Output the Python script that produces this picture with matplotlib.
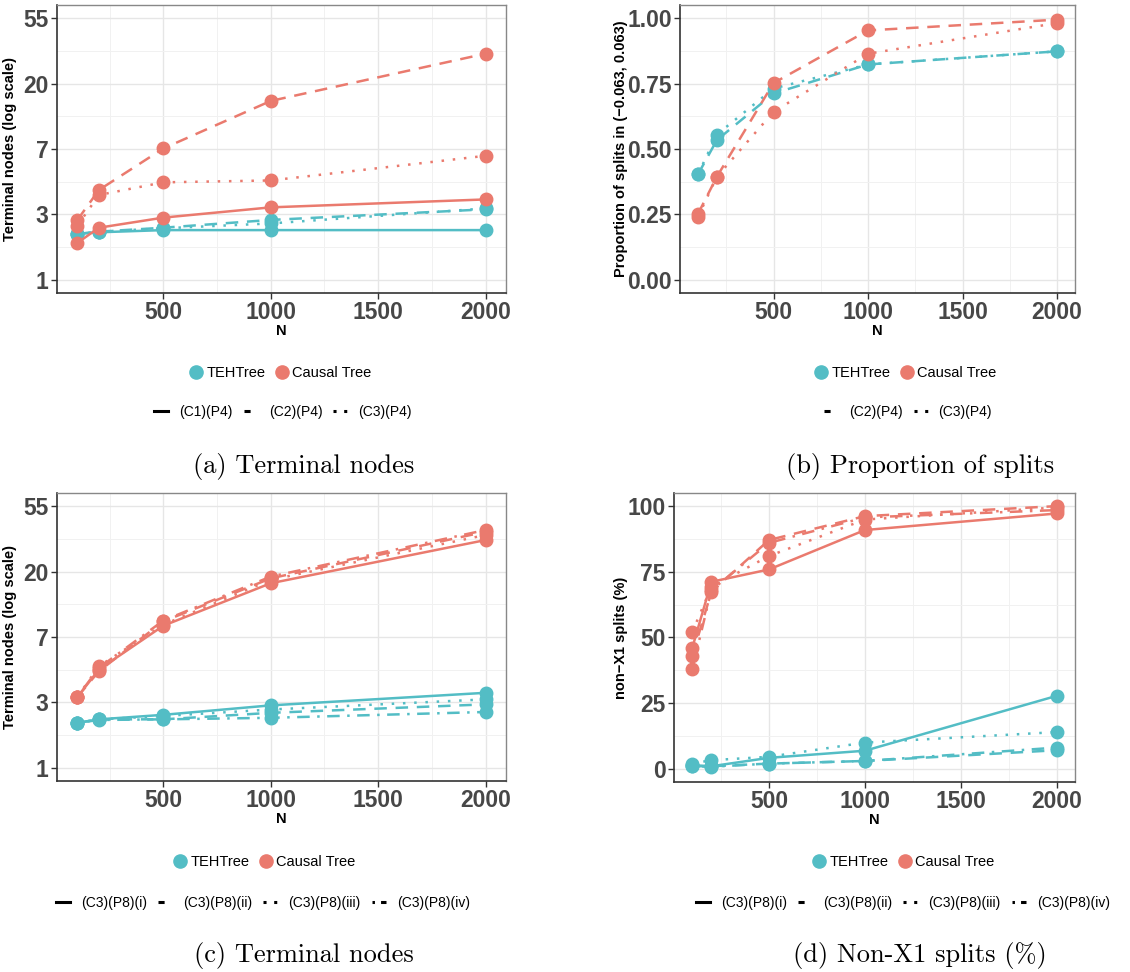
import matplotlib.pyplot as plt
import numpy as np
from matplotlib.lines import Line2D

plt.rcParams["font.family"] = ["Liberation Sans", "DejaVu Sans"]

N = [100, 200, 500, 1000, 2000]

# (a) terminal nodes, scenarios (C1..C3)(P4)
a_teh = {"C1": [2.02, 2.07, 2.14, 2.14, 2.14],
         "C2": [2.02, 2.09, 2.22, 2.50, 2.94],
         "C3": [2.02, 2.09, 2.20, 2.37, 2.98]}
a_ct = {"C1": [1.76, 2.22, 2.59, 3.03, 3.42],
        "C2": [2.50, 3.95, 7.45, 15.4, 31.7],
        "C3": [2.29, 3.66, 4.44, 4.57, 6.66]}
a_labels = {"C1": "(C1)(P4)", "C2": "(C2)(P4)", "C3": "(C3)(P4)"}

# (b) proportion of splits in (-0.063, 0.063)
b_teh = {"C2": [0.403, 0.534, 0.712, 0.823, 0.873],
         "C3": [0.403, 0.555, 0.731, 0.823, 0.873]}
b_ct = {"C2": [0.252, 0.394, 0.752, 0.953, 0.994],
        "C3": [0.241, 0.394, 0.642, 0.864, 0.981]}
b_labels = {"C2": "(C2)(P4)", "C3": "(C3)(P4)"}

# (c) terminal nodes, (C3)(P8)(i..iv)
c_teh = {"i": [1.99, 2.10, 2.25, 2.60, 3.15],
         "ii": [1.99, 2.10, 2.10, 2.32, 2.64],
         "iii": [1.99, 2.10, 2.21, 2.44, 2.85],
         "iv": [1.99, 2.08, 2.10, 2.15, 2.35]}
c_ct = {"i": [2.96, 4.49, 8.78, 16.8, 32.5],
        "ii": [2.96, 4.38, 9.38, 18.1, 36.9],
        "iii": [2.96, 4.73, 8.92, 17.7, 35.1],
        "iv": [2.96, 4.61, 9.50, 18.6, 37.9]}

# (d) non-X1 splits (%)
d_teh = {"i": [1.4, 1.0, 4.2, 6.9, 27.8],
         "ii": [1.0, 1.0, 2.0, 3.0, 7.1],
         "iii": [2.0, 3.3, 4.6, 10.0, 14.0],
         "iv": [1.0, 0.8, 2.0, 3.0, 8.1]}
d_ct = {"i": [46, 71.2, 75.9, 90.9, 97.2],
        "ii": [43, 67.4, 87.1, 96.2, 100.0],
        "iii": [52, 69.3, 81.0, 94.9, 99.5],
        "iv": [38, 68.0, 86.0, 95.7, 98.5]}
cd_labels = {"i": "(C3)(P8)(i)", "ii": "(C3)(P8)(ii)",
             "iii": "(C3)(P8)(iii)", "iv": "(C3)(P8)(iv)"}

log_ticks = ["1", "3", "7", "20", "55"]
methods = ["TEHTree", "Causal Tree"]
TEAL, RED = "#53BDC5", "#EA7A6E"

STYLE = {"C1": "-", "C2": (0, (5, 3.5)), "C3": (0, (1, 3.5)),
         "i": "-", "ii": (0, (5, 3.5)), "iii": (0, (1, 3.5)), "iv": (0, (1, 3, 5, 3))}
# short legend keys only show the start of each pattern
KEY_STYLE = {"C1": "-", "C2": (0, (2, 3)), "C3": (0, (1, 2.5)),
             "i": "-", "ii": (0, (2, 3)), "iii": (0, (1, 2.5)), "iv": (0, (0.8, 2, 2, 2))}
TICK_COL = "#474747"
W, H = 1130, 972


def style_axes(ax):
    ax.set_xlim(5, 2095)
    ax.set_xticks([500, 1000, 1500, 2000])
    ax.set_xticks([250, 750, 1250, 1750], minor=True)
    ax.grid(True, which="major", color="#E6E6E6", lw=1.0)
    ax.grid(True, which="minor", color="#F1F1F1", lw=0.7)
    ax.set_axisbelow(True)
    ax.tick_params(which="major", length=4, width=1, color="#333333",
                   labelsize=16.5, labelcolor=TICK_COL, pad=2)
    ax.tick_params(which="minor", length=0)
    for lab in ax.get_xticklabels() + ax.get_yticklabels():
        lab.set_fontweight("bold")
    for s in ["left", "bottom"]:
        ax.spines[s].set_color("#333333")
        ax.spines[s].set_linewidth(1.2)
    for s in ["top", "right"]:
        ax.spines[s].set_color("#888888")
        ax.spines[s].set_linewidth(1.0)
    ax.set_xlabel("N", fontsize=10.5, fontweight="bold", labelpad=0)


def draw(ax, teh, ct):
    for key in teh:
        ax.plot(N, teh[key], color=TEAL, lw=1.8, linestyle=STYLE[key],
                marker="o", markersize=9)
    for key in ct:
        ax.plot(N, ct[key], color=RED, lw=1.8, linestyle=STYLE[key],
                marker="o", markersize=9)


def log_axis(ax):
    ax.set_yscale("log")
    ax.set_ylim(np.exp(-0.2), np.exp(4.2))
    ax.set_yticks(np.exp(np.arange(5)))
    ax.set_yticklabels(log_ticks)
    ax.set_yticks(np.exp(np.arange(0.5, 4, 1.0)), minor=True)
    ax.yaxis.set_minor_formatter(plt.NullFormatter())


def set_ylab(ax, text, xpix):
    ax.set_ylabel(text, fontsize=10.5, fontweight="bold")
    l = ax.get_position().x0 * W
    w = ax.get_position().width * W
    ax.yaxis.set_label_coords((xpix - l) / w, 0.5)


def legends(x_m, y_m, x_l, y_l, labels):
    h1 = [Line2D([], [], color=c, marker="o", linestyle="none", markersize=9.5)
          for c in (TEAL, RED)]
    fig.legend(h1, methods, loc="center", bbox_to_anchor=(x_m / W, 1 - y_m / H),
               ncol=2, frameon=False, fontsize=10.5, handletextpad=0.2,
               columnspacing=0.6, handlelength=1.0)
    h2 = [Line2D([], [], color="black", lw=2.2, linestyle=KEY_STYLE[k]) for k in labels]
    fig.legend(h2, list(labels.values()), loc="center",
               bbox_to_anchor=(x_l / W, 1 - y_l / H), ncol=len(labels),
               frameon=False, fontsize=10, handletextpad=0.8,
               columnspacing=0.8, handlelength=1.0)


fig = plt.figure(figsize=(11.3, 9.72), dpi=100)


def add_ax(l, t, r, b):
    return fig.add_axes([l / W, 1 - b / H, (r - l) / W, (b - t) / H])


ax_a = add_ax(57, 5, 506, 293)
ax_b = add_ax(680, 5, 1075, 293)
ax_c = add_ax(57, 493, 506, 781)
ax_d = add_ax(674, 493, 1075, 782)

draw(ax_a, a_teh, a_ct)
log_axis(ax_a)
style_axes(ax_a)
set_ylab(ax_a, "Terminal nodes (log scale)", 17)

draw(ax_b, b_teh, b_ct)
ax_b.set_ylim(-0.05, 1.05)
ax_b.set_yticks([0, 0.25, 0.5, 0.75, 1.0])
ax_b.set_yticks([0.125, 0.375, 0.625, 0.875], minor=True)
ax_b.set_yticklabels(["0.00", "0.25", "0.50", "0.75", "1.00"])
style_axes(ax_b)
set_ylab(ax_b, "Proportion of splits in (\u22120.063, 0.063)", 628)

draw(ax_c, c_teh, c_ct)
log_axis(ax_c)
style_axes(ax_c)
set_ylab(ax_c, "Terminal nodes (log scale)", 17)

draw(ax_d, d_teh, d_ct)
ax_d.set_ylim(-5, 105)
ax_d.set_yticks([0, 25, 50, 75, 100])
ax_d.set_yticks([12.5, 37.5, 62.5, 87.5], minor=True)
style_axes(ax_d)
set_ylab(ax_d, "non\u2212X1 splits (%)", 628)

legends(280, 373, 283, 412, a_labels)
legends(905, 373, 908, 412, b_labels)
legends(264, 862, 263, 903, cd_labels)
legends(903, 862, 903, 903, cd_labels)

cap = dict(family=["cmr10", "DejaVu Serif"], fontsize=19, ha="center", va="center")
fig.text(304 / W, 1 - 466 / H, "(a) Terminal nodes", **cap)
fig.text(920 / W, 1 - 466 / H, "(b) Proportion of splits", **cap)
fig.text(304 / W, 1 - 955 / H, "(c) Terminal nodes", **cap)
fig.text(920 / W, 1 - 955 / H, "(d) Non-X1 splits (%)", **cap)

fig.savefig("out.png", dpi=100)
